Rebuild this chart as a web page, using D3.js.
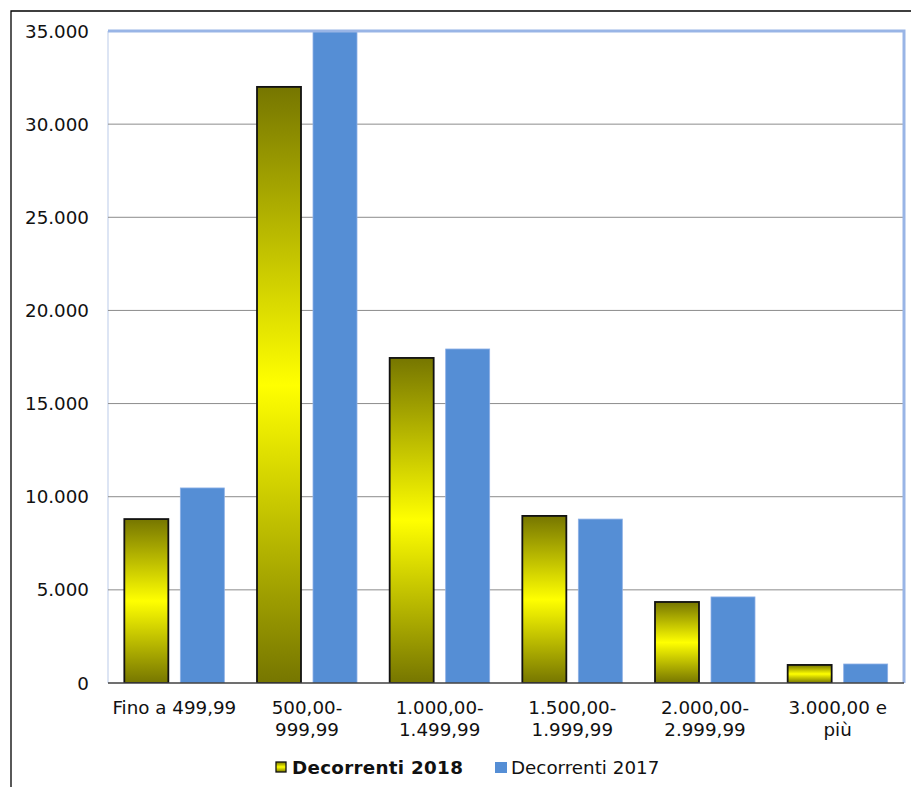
<!DOCTYPE html>
<html>
<head>
<meta charset="utf-8">
<script src="https://cdn.jsdelivr.net/npm/d3@7"></script>
<style>
  body { margin: 0; background: #fff; }
  text { font-family: "DejaVu Sans", Verdana, sans-serif; fill: #111; }
</style>
</head>
<body>
<svg id="chart" width="911" height="787"></svg>
<script>
const categories = [
  ["Fino a 499,99"],
  ["500,00-", "999,99"],
  ["1.000,00-", "1.499,99"],
  ["1.500,00-", "1.999,99"],
  ["2.000,00-", "2.999,99"],
  ["3.000,00 e", "più"]
];
const seriesNames = ["Decorrenti 2018", "Decorrenti 2017"];
const values2018 = [8800, 32000, 17450, 8970, 4350, 970];
const values2017 = [10470, 36500, 17930, 8800, 4620, 1020];
const yTicks = [0, 5000, 10000, 15000, 20000, 25000, 30000, 35000];

const svg = d3.select("#chart");
const margin = { top: 31, right: 7, bottom: 104, left: 108 };
const width = 911, height = 787;
const fontSize = 18.3;

const x0 = d3.scaleBand()
  .domain(d3.range(categories.length))
  .range([margin.left, width - margin.right]);
const x1 = d3.scaleBand()
  .domain(seriesNames)
  .range([0, x0.bandwidth()])
  .paddingInner(0.2143)
  .paddingOuter(0.2917);
const y = d3.scaleLinear()
  .domain([0, 35000])
  .range([height - margin.bottom, margin.top]);

const fmt = d3.formatLocale({ decimal: ",", thousands: ".", grouping: [3], currency: ["", "€"] }).format(",d");

// outer frame
svg.append("path")
  .attr("d", `M11,787 V11 H911`)
  .attr("fill", "none")
  .attr("stroke", "#000")
  .attr("stroke-width", 1.3);

const defs = svg.append("defs");
const grad = defs.append("linearGradient")
  .attr("id", "olive")
  .attr("x1", 0).attr("y1", 0).attr("x2", 0).attr("y2", 1);
grad.append("stop").attr("offset", "0%").attr("stop-color", "#767600");
grad.append("stop").attr("offset", "50%").attr("stop-color", "#ffff00");
grad.append("stop").attr("offset", "100%").attr("stop-color", "#767600");

defs.append("clipPath").attr("id", "plotClip")
  .append("rect")
  .attr("x", margin.left).attr("y", margin.top)
  .attr("width", width - margin.left - margin.right)
  .attr("height", height - margin.top - margin.bottom);

// plot area left edge
svg.append("line")
  .attr("x1", margin.left).attr("x2", margin.left)
  .attr("y1", margin.top).attr("y2", y(0))
  .attr("stroke", "#dde5f4").attr("stroke-width", 2);

// gridlines
svg.append("g")
  .selectAll("line")
  .data(yTicks.filter(d => d > 0 && d < 35000))
  .join("line")
  .attr("x1", margin.left)
  .attr("x2", width - margin.right)
  .attr("y1", d => y(d))
  .attr("y2", d => y(d))
  .attr("stroke", "#8c8c8c")
  .attr("stroke-width", 1);

// y tick labels
svg.append("g")
  .selectAll("text")
  .data(yTicks)
  .join("text")
  .attr("x", 89)
  .attr("y", d => y(d))
  .attr("dy", "0.36em")
  .attr("text-anchor", "end")
  .attr("font-size", fontSize)
  .text(d => fmt(d));

// bars
const groups = svg.append("g")
  .attr("clip-path", "url(#plotClip)")
  .selectAll("g")
  .data(categories.map((c, i) => ({ i, vals: [values2018[i], values2017[i]] })))
  .join("g")
  .attr("transform", d => `translate(${x0(d.i)},0)`);

groups.append("rect")
  .attr("x", x1(seriesNames[1]))
  .attr("y", d => y(d.vals[1]))
  .attr("width", x1.bandwidth())
  .attr("height", d => y(0) - y(d.vals[1]))
  .attr("fill", "#558ed5")
  .attr("stroke", "#8db0e6")
  .attr("stroke-width", 0.8);

groups.append("rect")
  .attr("x", x1(seriesNames[0]))
  .attr("y", d => y(d.vals[0]))
  .attr("width", x1.bandwidth())
  .attr("height", d => y(0) - y(d.vals[0]))
  .attr("fill", "url(#olive)")
  .attr("stroke", "#111")
  .attr("stroke-width", 1.8);

// plot area top/right border
svg.append("path")
  .attr("d", `M${margin.left},${margin.top} H${width - margin.right} V${y(0)}`)
  .attr("fill", "none")
  .attr("stroke", "#99b5e6")
  .attr("stroke-width", 3);

// x axis line
svg.append("line")
  .attr("x1", margin.left).attr("x2", width - margin.right)
  .attr("y1", y(0)).attr("y2", y(0))
  .attr("stroke", "#404040").attr("stroke-width", 1.5);

// x labels
svg.append("g")
  .selectAll("text")
  .data(categories)
  .join("text")
  .attr("x", (d, i) => x0(i) + x0.bandwidth() / 2)
  .attr("y", 714)
  .attr("text-anchor", "middle")
  .attr("font-size", fontSize)
  .selectAll("tspan")
  .data(d => d)
  .join("tspan")
  .attr("x", function () { return this.parentNode.getAttribute("x"); })
  .attr("dy", (d, i) => i === 0 ? 0 : 22)
  .text(d => d);

// legend
const legend = svg.append("g");
legend.append("rect")
  .attr("x", 276).attr("y", 762).attr("width", 10).attr("height", 10)
  .attr("fill", "url(#olive)").attr("stroke", "#111").attr("stroke-width", 1.3);
legend.append("text")
  .attr("x", 292).attr("y", 774)
  .attr("font-size", 18.3).attr("font-weight", "bold")
  .attr("letter-spacing", 0.3)
  .text(seriesNames[0]);
legend.append("rect")
  .attr("x", 495).attr("y", 762).attr("width", 12).attr("height", 11)
  .attr("fill", "#558ed5");
legend.append("text")
  .attr("x", 511).attr("y", 774)
  .attr("font-size", 18.3)
  .text(seriesNames[1]);
</script>
</body>
</html>
